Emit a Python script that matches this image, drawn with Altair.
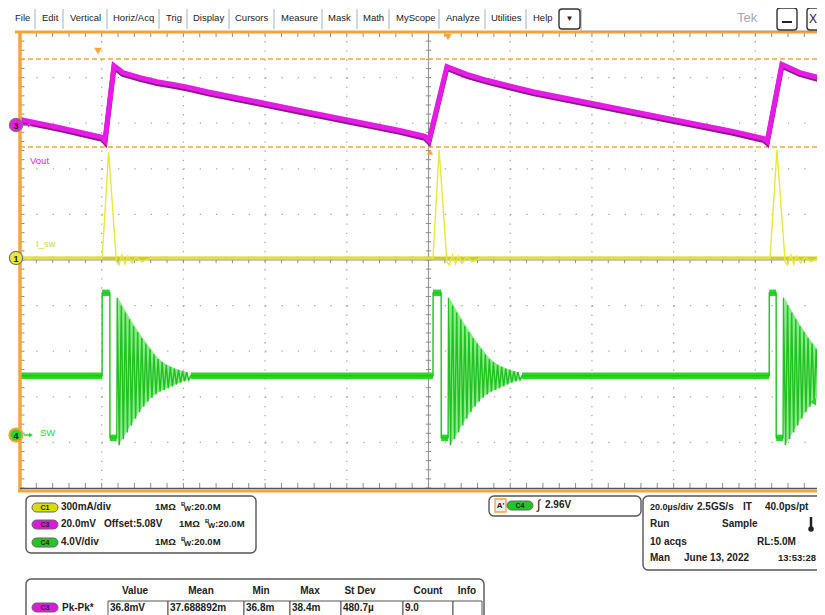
import altair as alt
import pandas as pd

FONT = "Liberation Sans"

# ------------------------------------------------------------------
# Waveform values
# time in µs (20 µs/div, trigger at 0), amplitude in graticule divisions
# ------------------------------------------------------------------
T_MIN, T_MAX = -100.0, 95.1
V_MIN, V_MAX = -5.0, 5.0

# C3  Vout (magenta)
vout_t = [-100.0, -90.2, -79.9, -79.2, -77.0, -74.8, -70.6, -66.5, -62.5, -58.4, -54.2,
          -31.5, -7.0, -0.9, 0.1, 4.5, 9.4, 14.3, 25.6, 74.5, 82.1, 82.9, 86.5, 90.9, 97.1]
vout_v = [3.07, 2.89, 2.68, 2.61, 4.25, 4.10, 3.99, 3.90, 3.84, 3.77, 3.68,
          3.27, 2.83, 2.70, 2.61, 4.23, 4.06, 3.93, 3.68, 2.81, 2.65, 2.59, 4.28, 4.10, 3.95]

# C1  I_sw (yellow)
isw_base = 0.04
isw_spike_start = [-79.9, 1.1, 83.6]
isw_spike_peak_t = [-78.3, 2.6, 85.3]
isw_spike_end = [-76.4, 4.5, 87.3]
isw_spike_peak = [2.37, 2.41, 2.41]
isw_spike_dip = -0.04
isw_ring_dt = [0.6, 1.4, 2.1, 2.8, 3.8, 4.8, 6.2, 8.2]
isw_ring_v = [-0.11, 0.11, -0.09, 0.09, -0.07, 0.07, -0.04, 0.04]

# C4  SW node (green)
sw_base, sw_high, sw_low = -2.54, -0.72, -3.90
sw_rise = [-79.9, 1.1, 83.4]
sw_fall = [-78.0, 3.1, 85.1]
sw_ring_start = [-76.3, 4.8, 86.8]
sw_ring_period = 1.0
sw_ring_hi = [-0.83, -1.00, -1.15, -1.30, -1.45, -1.58, -1.71, -1.83, -1.95,
              -2.07, -2.17, -2.24, -2.30, -2.34, -2.38, -2.41, -2.44, -2.46]
sw_ring_lo = [-4.06, -3.93, -3.78, -3.63, -3.48, -3.34, -3.22, -3.11, -3.02,
              -2.95, -2.89, -2.85, -2.81, -2.77, -2.73, -2.69, -2.66, -2.63]

# measurement gate cursors (divisions)
cursor_levels = [4.41, 2.48]

# graticule
grid_t = [-80, -60, -40, -20, 20, 40, 60, 80]
grid_v = [-4, -3, -2, -1, 1, 2, 3, 4]
minor_t = [T_MIN + 4 * k for k in range(50)]
minor_v = [V_MIN + 0.2 * k for k in range(51)]

# ---------------- texts of the instrument screen ----------------
menu_items = ["File", "Edit", "Vertical", "Horiz/Acq", "Trig", "Display", "Cursors",
              "Measure", "Mask", "Math", "MyScope", "Analyze", "Utilities", "Help"]
chan_scale = [["300mA/div"], ["20.0mV", "Offset:5.08V"], ["4.0V/div"]]
chan_pill = ["C1", "C3", "C4"]
chan_imp = ["1MΩ", "1MΩ", "1MΩ"]
chan_bw = [":20.0M", ":20.0M", ":20.0M"]
trig_text = ["A'", "C4", "∫", "2.96V"]
horiz_text = [["20.0µs/div", "2.5GS/s", "IT", "40.0ps/pt"],
              ["Run", "Sample"],
              ["10 acqs", "RL:5.0M"],
              ["Man", "June 13, 2022", "13:53:28"]]
meas_head = ["Value", "Mean", "Min", "Max", "St Dev", "Count", "Info"]
meas_vals = ["36.8mV", "37.688892m", "36.8m", "38.4m", "480.7µ", "9.0", ""]
meas_name = "Pk-Pk*"
trace_labels = ["Vout", "I_sw", "SW"]
marker_labels = ["3", "1", "4"]

# ---------------- colours ----------------
ORANGE = "#F6A53C"
MAG, MAG_D = "#E61CE6", "#8A1A8A"
YEL, YEL_D = "#E8E838", "#CFCF22"
GRN, GRN_D, GRN_F = "#2AD82A", "#1FC21F", "#84E884"
DOT = "#A6A6A6"
TXT = "#222222"

# ---------------- build tables ----------------
vout_df = pd.DataFrame({"t": vout_t, "v": vout_v, "i": range(len(vout_t))})

yrows = [(T_MIN, isw_base)]
for ts, tp, te, pk in zip(isw_spike_start, isw_spike_peak_t, isw_spike_end, isw_spike_peak):
    yrows += [(ts, isw_base), (tp, pk), (te, isw_spike_dip)]
    yrows += [(te + dt, v) for dt, v in zip(isw_ring_dt, isw_ring_v)]
yrows += [(T_MAX + 1, isw_base)]
isw_df = pd.DataFrame(yrows, columns=["t", "v"])
isw_df["i"] = range(len(isw_df))

P = sw_ring_period
n_ring = len(sw_ring_hi)
grows = [(T_MIN, sw_base)]
area_rows = []
band_rows = []
prev_end = T_MIN
for b, (tr, tf, ts) in enumerate(zip(sw_rise, sw_fall, sw_ring_start)):
    grows += [(tr, sw_base), (tr + 0.02, sw_high), (tf, sw_high), (tf + 0.02, sw_low), (ts, sw_low)]
    for k, (hi, lo) in enumerate(zip(sw_ring_hi, sw_ring_lo)):
        grows += [(ts + 0.1 + k * P, hi), (ts + 0.1 + (k + 0.5) * P, lo)]
        area_rows.append({"b": b, "t": ts + 0.1 + (k + 0.25) * P, "hi": hi, "lo": lo})
    ring_end = ts + 0.1 + n_ring * P
    grows += [(ring_end, sw_base)]
    band_rows += [{"t": prev_end, "t2": tr, "v": sw_base},
                  {"t": tr, "t2": tf, "v": sw_high},
                  {"t": tf, "t2": ts, "v": sw_low}]
    prev_end = ring_end
grows += [(T_MAX + 1, sw_base)]
band_rows.append({"t": prev_end, "t2": T_MAX + 1, "v": sw_base})
sw_df = pd.DataFrame(grows, columns=["t", "v"])
sw_df["i"] = range(len(sw_df))
area_df = pd.DataFrame(area_rows)
band_df = pd.DataFrame(band_rows)

XS = alt.Scale(domain=[T_MIN, T_MAX], nice=False, zero=False)
YS = alt.Scale(domain=[V_MIN, V_MAX], nice=False, zero=False)


def X(f):
    return alt.X(f"{f}:Q", scale=XS, axis=None)


def Y(f):
    return alt.Y(f"{f}:Q", scale=YS, axis=None)


def PX():
    return alt.X("px:Q", scale=None, axis=None)


def PY():
    return alt.Y("py:Q", scale=None, axis=None)


def hrule(df, **mk):
    return alt.Chart(df).mark_rule(**mk).encode(x=X("t"), x2="t2", y=Y("v"))


def vrule(df, **mk):
    return alt.Chart(df).mark_rule(**mk).encode(x=X("t"), y=Y("v"), y2="v2")


layers = []

# dotted graticule
layers.append(vrule(pd.DataFrame({"t": grid_t, "v": V_MAX, "v2": V_MIN}),
                    color=DOT, strokeWidth=1.3, strokeDash=[1.3, 7.82]))
layers.append(hrule(pd.DataFrame({"t": T_MIN, "t2": T_MAX, "v": grid_v}),
                    color=DOT, strokeWidth=1.3, strokeDash=[1.3, 15.04]))
# centre cross with minor ticks
layers.append(vrule(pd.DataFrame({"t": [0], "v": [V_MAX], "v2": [V_MIN]}), color="#9A9A9A", strokeWidth=1.2))
layers.append(hrule(pd.DataFrame({"t": [T_MIN], "t2": [T_MAX], "v": [0]}), color="#9A9A9A", strokeWidth=1.2))
layers.append(hrule(pd.DataFrame({"t": -0.65, "t2": 0.65, "v": minor_v}), color="#8C8C8C", strokeWidth=1))
layers.append(vrule(pd.DataFrame({"t": minor_t, "v": -0.07, "v2": 0.07}), color="#8C8C8C", strokeWidth=1))
# frame ticks
layers.append(vrule(pd.DataFrame({"t": minor_t, "v": V_MAX, "v2": V_MAX - 0.11}), color="#8C8C8C", strokeWidth=1))
layers.append(vrule(pd.DataFrame({"t": minor_t, "v": V_MIN, "v2": V_MIN + 0.11}), color="#8C8C8C", strokeWidth=1))
layers.append(hrule(pd.DataFrame({"t": T_MIN, "t2": T_MIN + 1.1, "v": minor_v}), color="#8C8C8C", strokeWidth=1))
# cursors
layers.append(hrule(pd.DataFrame({"t": T_MIN, "t2": T_MAX, "v": cursor_levels}),
                    color=ORANGE, strokeWidth=1.5, strokeDash=[5, 3]))

# ---------------- traces ----------------
layers.append(alt.Chart(area_df).mark_area(color=GRN_F, opacity=0.95, clip=True).encode(
    x=X("t"), y=Y("hi"), y2="lo", detail="b:N"))
layers.append(hrule(band_df, color=GRN, strokeWidth=6.5, clip=True))
layers.append(alt.Chart(sw_df).mark_line(color=GRN_D, strokeWidth=1.4, clip=True).encode(
    x=X("t"), y=Y("v"), order="i:Q"))

layers.append(hrule(pd.DataFrame({"t": [T_MIN], "t2": [T_MAX], "v": [isw_base]}),
                    color=YEL_D, strokeWidth=3.5))
layers.append(alt.Chart(isw_df).mark_line(color=YEL, strokeWidth=1.4, clip=True).encode(
    x=X("t"), y=Y("v"), order="i:Q"))

layers.append(alt.Chart(vout_df).mark_line(color=MAG_D, strokeWidth=5, yOffset=1.4, clip=True).encode(
    x=X("t"), y=Y("v"), order="i:Q"))
layers.append(alt.Chart(vout_df).mark_line(color=MAG, strokeWidth=5, yOffset=-0.5, clip=True).encode(
    x=X("t"), y=Y("v"), order="i:Q"))

# ---------------- screen furniture (page pixel layout) ----------------
OX, OY = 20, 32  # page position of the graticule's top-left corner


def ui(rows):
    out = []
    for r in rows:
        d = dict(r)
        d["px"] = d["x"] - OX
        d["py"] = d["y"] - OY
        if "x2" in d:
            d["px2"] = d["x2"] - OX
            d["py2"] = d["y2"] - OY
        out.append(d)
    return pd.DataFrame(out)


def ui_rules(rows):
    return alt.Chart(ui(rows)).mark_rule().encode(
        x=PX(), y=PY(), x2="px2", y2="py2",
        color=alt.Color("c:N", scale=None), strokeWidth=alt.StrokeWidth("w:Q", scale=None))


def ui_boxes(rows, radius, stroke, width, fill="white"):
    return alt.Chart(ui(rows)).mark_rect(cornerRadius=radius, stroke=stroke, strokeWidth=width,
                                         fill=fill).encode(x=PX(), y=PY(), x2="px2", y2="py2")


def ui_text(rows, align="left", weight="normal"):
    return alt.Chart(ui(rows)).mark_text(align=align, baseline="middle", font=FONT,
                                         fontWeight=weight).encode(
        x=PX(), y=PY(), text="text:N",
        color=alt.Color("c:N", scale=None), size=alt.Size("s:Q", scale=None))


# frame lines
layers.append(ui_rules([
    {"x": 15, "y": 32, "x2": 830, "y2": 32, "c": ORANGE, "w": 3},
    {"x": 20, "y": 31, "x2": 20, "y2": 492, "c": ORANGE, "w": 3.5},
    {"x": 20, "y": 488.5, "x2": 830, "y2": 488.5, "c": "#555555", "w": 1.5},
    {"x": 18, "y": 491, "x2": 830, "y2": 491, "c": ORANGE, "w": 3},
]))

# menu bar
menu_x = [15, 42, 70, 113, 166, 193, 235, 281, 328, 363, 396, 446, 491, 533]
menu_sep = [35, 63, 107, 159, 187, 229, 274, 322, 357, 389, 439, 485, 526]
layers.append(ui_rules([{"x": sx, "y": 9, "x2": sx, "y2": 29, "c": "#9DB0CC", "w": 1} for sx in menu_sep]
                       + [{"x": 767, "y": 8, "x2": 767, "y2": 30, "c": "#DDDDDD", "w": 1}]))
layers.append(ui_boxes([{"x": 581, "y": 5, "x2": 840, "y2": 31}], 0, "#9A9A9A", 1))
layers.append(ui_boxes([{"x": 559, "y": 9, "x2": 580, "y2": 29},
                        {"x": 777, "y": 8, "x2": 797, "y2": 30},
                        {"x": 807, "y": 8, "x2": 840, "y2": 30}], 3, "#333333", 1.4))
layers.append(ui_text([{"text": m, "x": mx, "y": 18, "c": TXT, "s": 9.5} for m, mx in zip(menu_items, menu_x)]))
layers.append(ui_text([{"text": "Tek", "x": 737, "y": 18, "c": "#A8A8A8", "s": 13}]))
layers.append(ui_text([{"text": "▼", "x": 569.5, "y": 19, "c": TXT, "s": 8},
                       {"text": "X", "x": 813, "y": 19, "c": TXT, "s": 12}], align="center"))
layers.append(ui_rules([{"x": 782, "y": 22, "x2": 792, "y2": 22, "c": TXT, "w": 2}]))

# panels
layers.append(ui_boxes([{"x": 26, "y": 496, "x2": 256, "y2": 553},
                        {"x": 489, "y": 496, "x2": 641, "y2": 516},
                        {"x": 643, "y": 496, "x2": 840, "y2": 570},
                        {"x": 26, "y": 579, "x2": 484, "y2": 640}], 5, "#555555", 1.4))
cell_x = [108, 168, 244, 290, 341, 403, 453, 482]
layers.append(ui_boxes([{"x": a, "y": 601, "x2": b, "y2": 640} for a, b in zip(cell_x[:-1], cell_x[1:])],
                       0, "#555555", 1))
layers.append(ui_boxes([{"x": 495, "y": 499, "x2": 506, "y2": 512}], 0, ORANGE, 1.3, fill="#EEEEEE"))

pill_cols = {"C1": "#DADA10", "C3": "#D81CD8", "C4": "#26C426"}
pill_rows = [{"x": 32, "y": 503, "x2": 58, "y2": 512, "f": pill_cols["C1"]},
             {"x": 32, "y": 520, "x2": 58, "y2": 529, "f": pill_cols["C3"]},
             {"x": 32, "y": 538, "x2": 58, "y2": 547, "f": pill_cols["C4"]},
             {"x": 507, "y": 501, "x2": 533, "y2": 510, "f": pill_cols["C4"]},
             {"x": 32, "y": 603, "x2": 58, "y2": 612, "f": pill_cols["C3"]}]
layers.append(alt.Chart(ui(pill_rows)).mark_rect(cornerRadius=4.5, stroke="#666666", strokeWidth=1).encode(
    x=PX(), y=PY(), x2="px2", y2="py2", fill=alt.Fill("f:N", scale=None)))
layers.append(ui_text([{"text": p, "x": 45, "y": yy, "c": TXT, "s": 7}
                       for p, yy in zip(chan_pill, [507.5, 524.5, 542.5])]
                      + [{"text": trig_text[1], "x": 520, "y": 505.5, "c": TXT, "s": 7},
                         {"text": "C3", "x": 45, "y": 607.5, "c": TXT, "s": 7},
                         {"text": trig_text[0], "x": 500.5, "y": 505.5, "c": TXT, "s": 8}],
                      align="center", weight="bold"))

chan_y = [507, 524, 542]
chan_x = [[61], [61, 104], [61]]
imp_x = [155, 179, 155]
bold_rows = []
for parts, xs, yy in zip(chan_scale, chan_x, chan_y):
    for txt, xx in zip(parts, xs):
        bold_rows.append({"text": txt, "x": xx, "y": yy, "c": TXT, "s": 10})
for txt, bw, xx, yy in zip(chan_imp, chan_bw, imp_x, chan_y):
    bold_rows.append({"text": txt, "x": xx, "y": yy, "c": TXT, "s": 9.5})
    bold_rows.append({"text": "B", "x": xx + 26, "y": yy - 3, "c": TXT, "s": 6})
    bold_rows.append({"text": "W", "x": xx + 29, "y": yy + 2, "c": TXT, "s": 7.5})
    bold_rows.append({"text": bw, "x": xx + 36, "y": yy, "c": TXT, "s": 9.5})
bold_rows.append({"text": trig_text[3], "x": 545, "y": 505, "c": TXT, "s": 10})
horiz_x = [[650, 697, 743, 765], [650, 722], [650, 757], [650, 684, 778]]
horiz_s = [[9, 10, 10, 10], [10, 10], [10, 10], [10, 10, 9.5]]
for row, xs, ss, yy in zip(horiz_text, horiz_x, horiz_s, [507, 524, 542, 558]):
    for txt, xx, s in zip(row, xs, ss):
        bold_rows.append({"text": txt, "x": xx, "y": yy, "c": TXT, "s": s})
bold_rows.append({"text": meas_name, "x": 62, "y": 608, "c": TXT, "s": 10})
for txt, xx in zip(meas_vals, cell_x[:-1]):
    if txt:
        bold_rows.append({"text": txt, "x": xx + 2, "y": 608, "c": TXT, "s": 10})
layers.append(ui_text(bold_rows, weight="bold"))
layers.append(ui_text([{"text": h, "x": hx, "y": 591, "c": TXT, "s": 10}
                       for h, hx in zip(meas_head, [135, 201, 261, 310, 360, 428, 467])],
                      align="center", weight="bold"))
layers.append(ui_text([{"text": trig_text[2], "x": 537, "y": 505, "c": TXT, "s": 13}]))
# thermometer icon
layers.append(ui_rules([{"x": 811, "y": 517, "x2": 811, "y2": 528, "c": TXT, "w": 2.5}]))
layers.append(alt.Chart(ui([{"x": 811, "y": 529}])).mark_circle(color=TXT, size=30, opacity=1).encode(
    x=PX(), y=PY()))

# trace labels
layers.append(ui_text([{"text": trace_labels[0], "x": 30, "y": 161, "c": MAG, "s": 9.5},
                       {"text": trace_labels[1], "x": 36, "y": 244, "c": "#D6D630", "s": 9.5},
                       {"text": trace_labels[2], "x": 40, "y": 433, "c": GRN, "s": 9.5}]))

# channel ground markers and arrows
layers.append(ui_rules([{"x": 23, "y": 125, "x2": 29, "y2": 125, "c": MAG, "w": 1.5},
                        {"x": 23, "y": 258, "x2": 29, "y2": 258, "c": YEL, "w": 1.5},
                        {"x": 24, "y": 435, "x2": 30, "y2": 435, "c": GRN, "w": 1.5}]))
tri_rows = [{"x": 30, "y": 125, "sh": "triangle-right", "f": MAG, "s": 22},
            {"x": 30, "y": 258, "sh": "triangle-right", "f": YEL, "s": 22},
            {"x": 31, "y": 435, "sh": "triangle-right", "f": GRN, "s": 22},
            {"x": 98, "y": 51, "sh": "triangle-down", "f": ORANGE, "s": 60},
            {"x": 448, "y": 37, "sh": "triangle-down", "f": ORANGE, "s": 60},
            {"x": 430, "y": 152, "sh": "triangle-up", "f": ORANGE, "s": 40},
            {"x": 813, "y": 402, "sh": "triangle-left", "f": GRN, "s": 55}]
layers.append(alt.Chart(ui(tri_rows)).mark_point(filled=True, opacity=1, strokeWidth=0).encode(
    x=PX(), y=PY(), shape=alt.Shape("sh:N", scale=None), fill=alt.Fill("f:N", scale=None),
    size=alt.Size("s:Q", scale=None)))
circ_rows = [{"x": 16, "y": 125, "f": MAG, "st": "#777777", "w": 1.2},
             {"x": 16, "y": 258, "f": "#EAEA30", "st": "#777777", "w": 1.2},
             {"x": 16, "y": 435, "f": GRN, "st": ORANGE, "w": 2}]
layers.append(alt.Chart(ui(circ_rows)).mark_point(filled=True, opacity=1, shape="circle", size=175).encode(
    x=PX(), y=PY(), fill=alt.Fill("f:N", scale=None), stroke=alt.Stroke("st:N", scale=None),
    strokeWidth=alt.StrokeWidth("w:Q", scale=None)))
layers.append(ui_text([{"text": m, "x": 16, "y": yy + 0.5, "c": TXT, "s": 9}
                       for m, yy in zip(marker_labels, [125, 258, 435])], align="center", weight="bold"))

chart = alt.layer(*layers).properties(
    width=797, height=456,
    padding={"left": 12, "top": 24, "right": 0, "bottom": 127},
    autosize="none",
    background="white",
).configure_view(stroke=None)

chart.save("out.html", embed_options={"renderer": "svg", "actions": False})
